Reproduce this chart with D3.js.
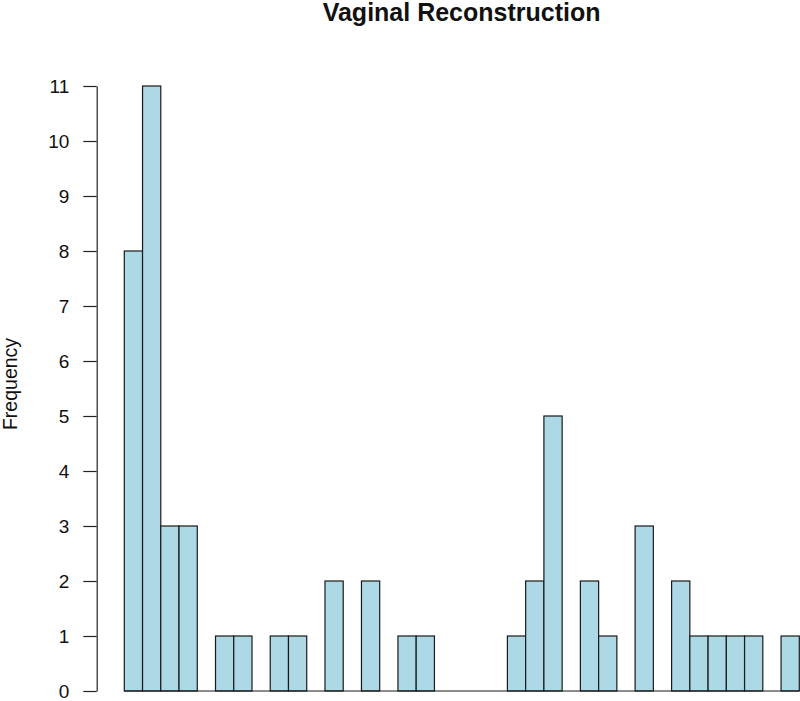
<!DOCTYPE html>
<html>
<head>
<meta charset="utf-8">
<script src="https://cdn.jsdelivr.net/npm/d3@7"></script>
<style>
  body { margin: 0; background: #fff; }
  svg { display: block; font-family: "Liberation Sans", Arial, sans-serif; }
</style>
</head>
<body>
<svg id="hist" width="800" height="701"></svg>
<script>
// histogram bins (x axis is cropped in the original, so bins are just numbered)
const bins = d3.range(37);
const counts = [8, 11, 3, 3, 0, 1, 1, 0, 1, 1, 0, 2, 0, 2, 0, 1, 1, 0, 0, 0, 0,
                1, 2, 5, 0, 2, 1, 0, 3, 0, 2, 1, 1, 1, 1, 0, 1];
const yTicks = [0, 1, 2, 3, 4, 5, 6, 7, 8, 9, 10, 11];
const title = "Vaginal Reconstruction";
const yLabel = "Frequency";

const width = 800;
const height = 701;
const svg = d3.select('#hist');

const xScale = d3.scaleBand()
  .domain(bins)
  .range([124.3, 799.3])
  .padding(0);

const yScale = d3.scaleLinear()
  .domain([0, 11])
  .range([691, 86]);

const data = bins.map((b, i) => ({ bin: b, n: counts[i] }));

// bars
svg.append('g')
  .selectAll('rect')
  .data(data.filter(d => d.n > 0))
  .join('rect')
    .attr('x', d => xScale(d.bin))
    .attr('y', d => yScale(d.n))
    .attr('width', xScale.bandwidth())
    .attr('height', d => yScale(0) - yScale(d.n))
    .attr('fill', 'lightblue')
    .attr('stroke', '#1a1a1a')
    .attr('stroke-width', 1.2);

// zero-height bins still show as a line in R
svg.append('line')
  .attr('x1', xScale(bins[0]))
  .attr('x2', xScale(bins[bins.length - 1]) + xScale.bandwidth())
  .attr('y1', yScale(0))
  .attr('y2', yScale(0))
  .attr('stroke', '#1a1a1a')
  .attr('stroke-width', 1.2);

// y axis
const yAxis = svg.append('g')
  .attr('transform', 'translate(96.7,0)')
  .call(d3.axisLeft(yScale)
    .tickValues(yTicks)
    .tickFormat(d3.format('d'))
    .tickSize(13.4)
    .tickSizeOuter(0)
    .tickPadding(14));

yAxis.select('.domain').attr('stroke', '#222').attr('stroke-width', 1.2);
yAxis.selectAll('.tick line').attr('stroke', '#222').attr('stroke-width', 1.2);
yAxis.selectAll('.tick text')
  .attr('font-size', 19)
  .attr('font-family', '"Liberation Sans", Arial, sans-serif')
  .attr('fill', '#111');

// title
svg.append('text')
  .attr('x', 461.6)
  .attr('y', 20.5)
  .attr('text-anchor', 'middle')
  .attr('font-size', 25)
  .attr('font-weight', 'bold')
  .attr('fill', '#111')
  .text(title);

// y label
svg.append('text')
  .attr('transform', 'translate(17,384) rotate(-90)')
  .attr('text-anchor', 'middle')
  .attr('font-size', 19.5)
  .attr('fill', '#111')
  .text(yLabel);
</script>
</body>
</html>
